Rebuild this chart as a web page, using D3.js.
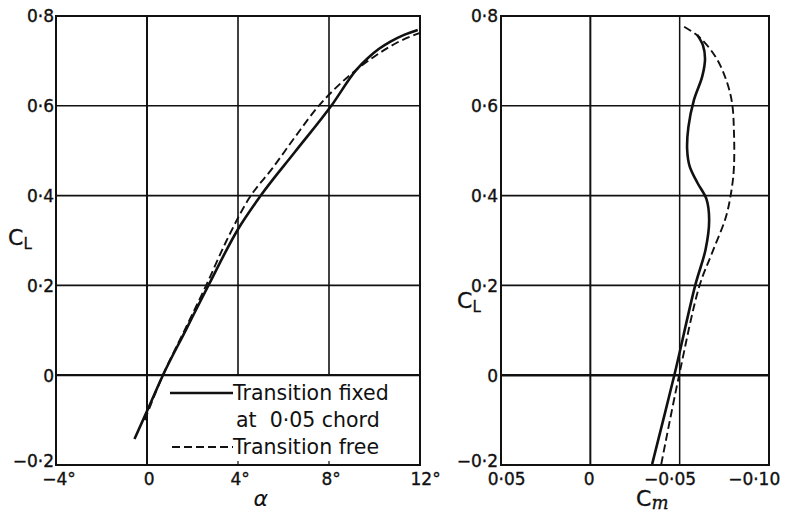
<!DOCTYPE html>
<html>
<head>
<meta charset="utf-8">
<script src="https://cdn.jsdelivr.net/npm/d3@7"></script>
<style>
  html, body { margin: 0; padding: 0; background: #fff; }
  svg { display: block; }
  text { font-family: "DejaVu Sans", sans-serif; fill: #111; }
</style>
</head>
<body>
<svg id="chart" width="785" height="514"></svg>
<script>
// Lift curve, transition fixed at 0.05 chord (incidence in degrees vs CL)
const alphaFixed = [-0.55, 0, 0.7, 1.7, 2.7, 4, 5, 6.5, 8.1, 9.2, 9.7, 10.2, 10.7, 11.3, 11.9];
const clFixed    = [-0.142, -0.08, 0, 0.1, 0.2, 0.325, 0.40, 0.497, 0.6, 0.68, 0.706, 0.727, 0.743, 0.758, 0.769];

// Lift curve, transition free
const alphaFree = [-0.1, 0.7, 1.65, 2.6, 3.5, 4.5, 5.5, 6.5, 7.5, 8.3, 9.2, 10, 11, 12.1];
const clFree    = [-0.1, 0, 0.1, 0.2, 0.3, 0.395, 0.46, 0.53, 0.597, 0.64, 0.68, 0.71, 0.741, 0.764];

// Pitching moment vs CL, transition fixed
const cmFixed   = [-0.0346, -0.047, -0.0587, -0.0645, -0.0665, -0.0650, -0.0600, -0.0556, -0.0542, -0.0549, -0.058, -0.0626, -0.0642, -0.0630, -0.0598];
const clCmFixed = [-0.198, 0, 0.2, 0.28, 0.345, 0.392, 0.428, 0.465, 0.502, 0.553, 0.613, 0.665, 0.705, 0.735, 0.758];

// Pitching moment vs CL, transition free
const cmFree   = [-0.0397, -0.0497, -0.061, -0.0682, -0.076, -0.0793, -0.0804, -0.0804, -0.0793, -0.076, -0.0704, -0.061, -0.0508];
const clCmFree = [-0.198, 0, 0.198, 0.273, 0.354, 0.42, 0.465, 0.54, 0.607, 0.658, 0.707, 0.753, 0.78];

// Tick values and their printed labels
const clTicks       = [-0.2, 0, 0.2, 0.4, 0.6, 0.8];
const clTickLabels  = ["−0·2", "0", "0·2", "0·4", "0·6", "0·8"];
const alphaTicks      = [-4, 0, 4, 8, 12];
const alphaTickLabels = ["−4°", "0", "4°", "8°", "12°"];
const cmTicks      = [0.05, 0, -0.05, -0.10];
const cmTickLabels = ["0·05", "0", "−0·05", "−0·10"];

const legendLabels = ["Transition fixed", "at\u00a0\u00a00·05 chord", "Transition free"];

const svg = d3.select("#chart");

const y = d3.scaleLinear().domain([-0.2, 0.8]).range([465, 16]);
const xA = d3.scaleLinear().domain([-4, 12]).range([56, 420]);
const xC = d3.scaleLinear().domain([0.05, -0.10]).range([501, 769]);

const gridColor = "#111";
const labelSize = 17;

function styleLabels(sel) {
  sel.attr("font-size", labelSize).attr("font-family", "DejaVu Sans")
    .attr("fill", "#111").attr("stroke", "#111").attr("stroke-width", 0.35);
}

// ---------- Left panel: CL vs alpha ----------
const left = svg.append("g");

left.selectAll("line.h").data([0.2, 0.4, 0.6]).join("line")
  .attr("x1", xA(-4)).attr("x2", xA(12))
  .attr("y1", d => y(d)).attr("y2", d => y(d))
  .attr("stroke", gridColor).attr("stroke-width", 1.6);
left.append("line")
  .attr("x1", xA(-4)).attr("x2", xA(12)).attr("y1", y(0)).attr("y2", y(0))
  .attr("stroke", gridColor).attr("stroke-width", 2.2);

// vertical grid: alpha = 0 runs full height, 4 and 8 stop at CL = 0 above the key
left.append("line")
  .attr("x1", xA(0)).attr("x2", xA(0)).attr("y1", y(0.8)).attr("y2", y(-0.2))
  .attr("stroke", gridColor).attr("stroke-width", 2);
left.selectAll("line.v").data([4, 8]).join("line")
  .attr("x1", d => xA(d)).attr("x2", d => xA(d))
  .attr("y1", y(0.8)).attr("y2", y(0))
  .attr("stroke", gridColor).attr("stroke-width", 1.6);
left.selectAll("line.t").data([4, 8]).join("line")
  .attr("x1", d => xA(d)).attr("x2", d => xA(d))
  .attr("y1", y(-0.2)).attr("y2", y(-0.2) - 4)
  .attr("stroke", gridColor).attr("stroke-width", 1.2);

left.append("rect")
  .attr("x", xA(-4)).attr("y", y(0.8))
  .attr("width", xA(12) - xA(-4)).attr("height", y(-0.2) - y(0.8))
  .attr("fill", "none").attr("stroke", gridColor).attr("stroke-width", 2);

const leftY = d3.axisLeft(y).tickValues(clTicks)
  .tickFormat((d, i) => clTickLabels[i]).tickSize(0).tickPadding(2);
left.append("g").attr("transform", `translate(${xA(-4)},0)`).call(leftY)
  .call(g => g.select(".domain").remove())
  .selectAll("text").call(styleLabels)
  .attr("dy", d => d === -0.2 ? "0.1em" : "0.35em");

const leftX = d3.axisBottom(xA).tickValues(alphaTicks)
  .tickFormat((d, i) => alphaTickLabels[i]).tickSize(0).tickPadding(8);
left.append("g").attr("transform", `translate(0,${y(-0.2)})`).call(leftX)
  .call(g => g.select(".domain").remove())
  .selectAll("text").call(styleLabels)
  .attr("dx", d => d === 12 ? "0.3em" : (d === -4 ? "0.15em" : "0.1em"));

// axis titles
const clTitle = (g, xPos, yPos) => {
  const t = g.append("text").attr("x", xPos).attr("y", yPos).attr("font-size", 22)
    .attr("stroke", "#111").attr("stroke-width", 0.3);
  t.append("tspan").text("C");
  t.append("tspan").attr("font-size", 15).attr("dy", 4).text("L");
};
clTitle(svg, 8, 245);
clTitle(svg, 457, 308);

svg.append("text").attr("x", xA(5)).attr("y", 506).attr("text-anchor", "middle")
  .attr("font-size", 22).attr("font-style", "italic").attr("font-family", "DejaVu Serif")
  .text("α");

const lineA = d3.line().x(d => xA(d[0])).y(d => y(d[1])).curve(d3.curveMonotoneX);
left.append("path")
  .datum(d3.zip(alphaFixed, clFixed))
  .attr("d", lineA).attr("fill", "none").attr("stroke", "#111").attr("stroke-width", 2.6);
left.append("path")
  .datum(d3.zip(alphaFree, clFree))
  .attr("d", lineA).attr("fill", "none").attr("stroke", "#111").attr("stroke-width", 1.9)
  .attr("stroke-dasharray", "8,4");

// key
const key = left.append("g").attr("font-size", 20.5);
key.append("line").attr("x1", 170).attr("x2", 233).attr("y1", 393).attr("y2", 393)
  .attr("stroke", "#111").attr("stroke-width", 2.6);
key.append("text").attr("x", 233).attr("y", 400).text(legendLabels[0]);
key.append("text").attr("x", 236).attr("y", 427).text(legendLabels[1]);
key.append("line").attr("x1", 172).attr("x2", 233).attr("y1", 447).attr("y2", 447)
  .attr("stroke", "#111").attr("stroke-width", 1.9).attr("stroke-dasharray", "8,4");
key.append("text").attr("x", 233).attr("y", 454).text(legendLabels[2]);

// ---------- Right panel: CL vs Cm ----------
const right = svg.append("g");

right.selectAll("line.h").data([0.2, 0.4, 0.6]).join("line")
  .attr("x1", xC(0.05)).attr("x2", xC(-0.10))
  .attr("y1", d => y(d)).attr("y2", d => y(d))
  .attr("stroke", gridColor).attr("stroke-width", 1.6);
right.append("line")
  .attr("x1", xC(0.05)).attr("x2", xC(-0.10)).attr("y1", y(0)).attr("y2", y(0))
  .attr("stroke", gridColor).attr("stroke-width", 2.4);
right.selectAll("line.v").data([0, -0.05]).join("line")
  .attr("x1", d => xC(d)).attr("x2", d => xC(d))
  .attr("y1", y(0.8)).attr("y2", y(-0.2))
  .attr("stroke", gridColor).attr("stroke-width", d => d === 0 ? 2 : 1.5);
right.append("rect")
  .attr("x", xC(0.05)).attr("y", y(0.8))
  .attr("width", xC(-0.10) - xC(0.05)).attr("height", y(-0.2) - y(0.8))
  .attr("fill", "none").attr("stroke", gridColor).attr("stroke-width", 2);

const rightY = d3.axisLeft(y).tickValues(clTicks)
  .tickFormat((d, i) => clTickLabels[i]).tickSize(0).tickPadding(3);
right.append("g").attr("transform", `translate(${xC(0.05)},0)`).call(rightY)
  .call(g => g.select(".domain").remove())
  .selectAll("text").call(styleLabels)
  .attr("dy", d => d === -0.2 ? "0.1em" : "0.35em");

const rightX = d3.axisBottom(xC).tickValues(cmTicks)
  .tickFormat((d, i) => cmTickLabels[i]).tickSize(0).tickPadding(8);
right.append("g").attr("transform", `translate(0,${y(-0.2)})`).call(rightX)
  .call(g => g.select(".domain").remove())
  .selectAll("text").call(styleLabels)
  .attr("dx", d => d === 0.05 ? "0.3em" : (d === 0 ? "-0.1em" : (d === -0.05 ? "-0.6em" : "-0.9em")));

const cmT = svg.append("text").attr("x", 636).attr("y", 506).attr("font-size", 22)
  .attr("stroke", "#111").attr("stroke-width", 0.3);
cmT.append("tspan").text("C");
cmT.append("tspan").attr("font-size", 18).attr("dy", 3).attr("font-style", "italic")
  .attr("font-family", "DejaVu Serif").text("m");

const lineC = d3.line().x(d => xC(d[0])).y(d => y(d[1])).curve(d3.curveCatmullRom.alpha(0.5));
right.append("path")
  .datum(d3.zip(cmFixed, clCmFixed))
  .attr("d", lineC).attr("fill", "none").attr("stroke", "#111").attr("stroke-width", 2.6);
right.append("path")
  .datum(d3.zip(cmFree, clCmFree))
  .attr("d", lineC).attr("fill", "none").attr("stroke", "#111").attr("stroke-width", 1.9)
  .attr("stroke-dasharray", "8,4");
</script>
</body>
</html>
